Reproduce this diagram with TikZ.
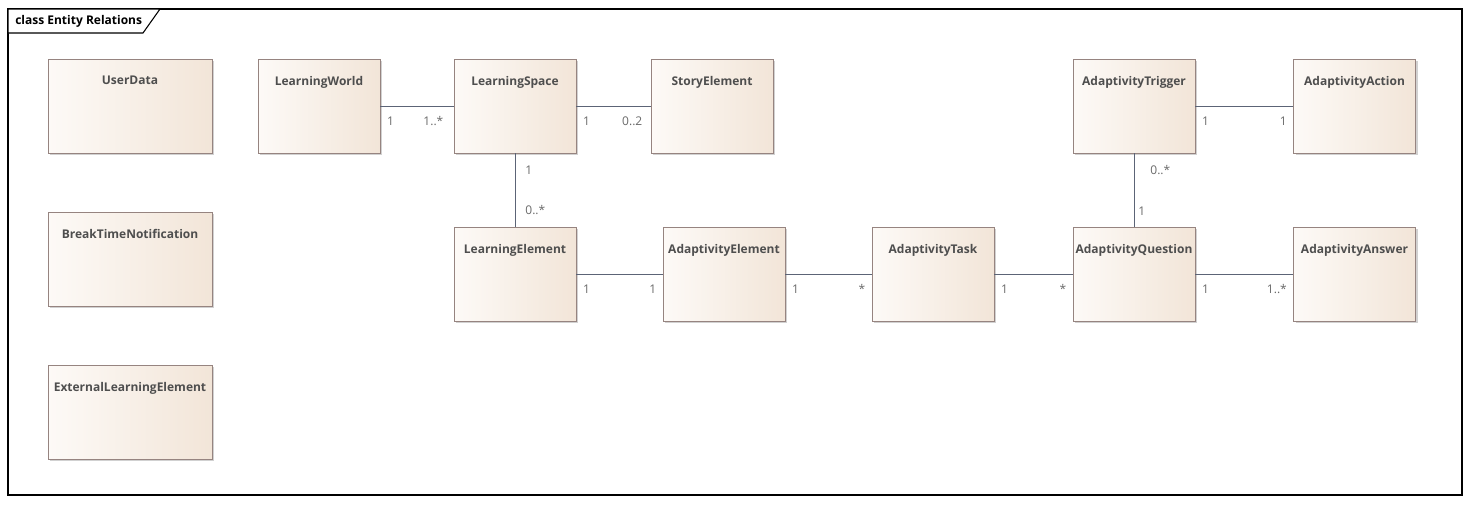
\documentclass[tikz,border=0pt]{standalone}
\usepackage{fontspec}
\setmainfont{Open Sans}
\usetikzlibrary{shadows}
\definecolor{boxleft}{RGB}{253,250,247}
\definecolor{boxright}{RGB}{242,229,216}
\definecolor{boxline}{RGB}{150,132,128}
\definecolor{linkline}{RGB}{92,100,118}
\definecolor{nametext}{RGB}{78,78,78}
\definecolor{multtext}{RGB}{105,105,105}
\begin{document}
\begin{tikzpicture}[x=0.75pt,y=-0.75pt]
\tikzstyle{class}=[draw=boxline,left color=boxleft,right color=boxright,minimum width=91.5pt,minimum height=70.5pt,inner sep=0pt,
  drop shadow={shadow xshift=1.8pt,shadow yshift=-1.8pt,fill=black,opacity=.18},
  label={[anchor=north,yshift=-12.75pt,inner sep=0pt,font=\fontsize{9}{11}\selectfont\bfseries,text=nametext]north:#1}]
\tikzstyle{wideclass}=[class=#1,minimum width=123pt]
\tikzstyle{link}=[draw=linkline,line width=.6pt]
\tikzstyle{mult}=[font=\fontsize{9}{11}\selectfont,text=multtext,inner sep=0pt]
\tikzstyle{srcmult}=[mult,anchor=west,at start,xshift=4.9pt,yshift=-11.25pt]
\tikzstyle{dstmult}=[mult,anchor=east,at end,xshift=-4.5pt,yshift=-11.25pt]
\useasboundingbox(0,0)rectangle(1470,504);
% frame and title tab
\draw[line width=.8pt](8,9)rectangle(1462,495);
\draw[line width=.8pt,fill=white](8,9)--(160,9)--(143,33)--(8,33)--cycle;
\node[anchor=west,inner sep=0pt,font=\fontsize{9}{11}\selectfont\bfseries](title)at(15,21){class Entity Relations};
% classes
\node[wideclass=UserData](ud)at(130,106){};
\node[wideclass=BreakTimeNotification](btn)at(130,259){};
\node[wideclass=ExternalLearningElement](ele)at(130,412){};
\node[class=LearningWorld](lw)at(319,106){};
\node[class=LearningSpace](ls)at(515,106){};
\node[class=StoryElement](se)at(712,106){};
\node[class=AdaptivityTrigger](atr)at(1134,106){};
\node[class=AdaptivityAction](aac)at(1354.5,106){};
\node[class=LearningElement](le)at(515,274){};
\node[class=AdaptivityElement](ae)at(724,274){};
\node[class=AdaptivityTask](at)at(933,274){};
\node[class=AdaptivityQuestion](aq)at(1134,274){};
\node[class=AdaptivityAnswer](aan)at(1354.5,274){};
% associations
\path[link](lw)--(ls)node[srcmult]{1}node[dstmult,xshift=-3pt]{1..*};
\path[link](ls)--(se)node[srcmult]{1}node[dstmult,xshift=-1.5pt]{0..2};
\path[link](ls)--(le)node[mult,anchor=west,at start,xshift=7.5pt,yshift=-12.75pt]{1}node[mult,anchor=west,at end,xshift=7.5pt,yshift=12.75pt]{0..*};
\path[link](le)--(ae)node[srcmult]{1}node[dstmult]{1};
\path[link](ae)--(at)node[srcmult]{1}node[dstmult]{*};
\path[link](at)--(aq)node[srcmult]{1}node[dstmult]{*};
\path[link](aq)--(aan)node[srcmult]{1}node[dstmult]{1..*};
\path[link](atr)--(aac)node[srcmult]{1}node[dstmult]{1};
\path[link](atr)--(aq)node[mult,anchor=west,at start,xshift=12pt,yshift=-12.75pt]{0..*}node[mult,anchor=west,at end,xshift=3pt,yshift=12pt]{1};
\end{tikzpicture}
\end{document}
